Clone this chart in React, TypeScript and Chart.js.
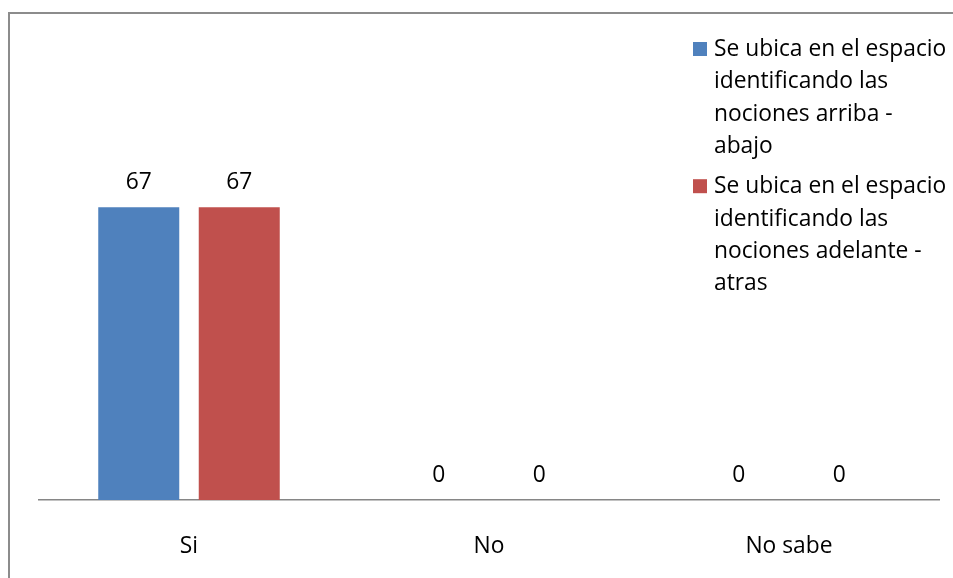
import React, { useEffect, useRef } from "react";
import { Chart, registerables } from "chart.js";

Chart.register(...registerables);

const categories = ["Si", "No", "No sabe"];
const seriesArriba = [67, 0, 0];
const seriesAdelante = [67, 0, 0];
const seriesNames = [
  "Se ubica en el espacio identificando las nociones arriba - abajo",
  "Se ubica en el espacio identificando las nociones adelante - atras",
];
const legendLines = [
  ["Se ubica en el espacio", "identificando las", "nociones arriba -", "abajo"],
  ["Se ubica en el espacio", "identificando las", "nociones adelante -", "atras"],
];
const colors = ["#4F81BD", "#C0504D"];

const FONT_FAMILY = "'Open Sans', sans-serif";
const FONT_SIZE = 22.8;

const labelsPlugin = {
  id: "valueLabels",
  afterDatasetsDraw(chart: any) {
    const ctx = chart.ctx;
    ctx.save();
    ctx.font = `${FONT_SIZE}px ${FONT_FAMILY}`;
    ctx.fillStyle = "#000";
    ctx.textAlign = "center";
    ctx.textBaseline = "alphabetic";
    chart.data.datasets.forEach((ds: any, di: number) => {
      const meta = chart.getDatasetMeta(di);
      meta.data.forEach((el: any, i: number) => {
        ctx.fillText(String(ds.data[i]), el.x, el.y - 18);
      });
    });
    ctx.restore();
  },
};

const legendPlugin = {
  id: "wrappedLegend",
  afterDraw(chart: any) {
    const ctx = chart.ctx;
    ctx.save();
    ctx.font = `${FONT_SIZE}px ${FONT_FAMILY}`;
    ctx.textAlign = "left";
    ctx.textBaseline = "alphabetic";
    const x0 = 683;
    const lineH = 32.3;
    let baseline = 42;
    legendLines.forEach((lines, i) => {
      ctx.fillStyle = colors[i];
      ctx.fillRect(x0, baseline - 14, 14, 14);
      ctx.fillStyle = "#000";
      lines.forEach((ln, j) => {
        ctx.fillText(ln, x0 + 21, baseline + j * lineH);
      });
      baseline += lines.length * lineH + 8;
    });
    ctx.restore();
  },
};

export default function App() {
  const ref = useRef<HTMLCanvasElement | null>(null);
  useEffect(() => {
    document.body.style.overflow = "hidden";
    const canvas = ref.current;
    if (!canvas) return;
    const chart = new Chart(canvas, {
      type: "bar",
      data: {
        labels: categories,
        datasets: [
          {
            label: seriesNames[0],
            data: seriesArriba,
            backgroundColor: colors[0],
            barPercentage: 0.806,
            categoryPercentage: 0.67,
          },
          {
            label: seriesNames[1],
            data: seriesAdelante,
            backgroundColor: colors[1],
            barPercentage: 0.806,
            categoryPercentage: 0.67,
          },
        ],
      },
      options: {
        animation: false,
        responsive: false,
        maintainAspectRatio: false,
        layout: { padding: { left: 29, right: 31, top: 49, bottom: 34 } },
        plugins: {
          legend: { display: false },
          tooltip: { enabled: false },
        },
        scales: {
          x: {
            grid: { display: false, drawTicks: false },
            border: { display: true, color: "#868686", width: 1.5 },
            ticks: {
              color: "#000",
              padding: 33,
              font: { family: FONT_FAMILY, size: FONT_SIZE },
            },
            afterFit: (s: any) => {
              s.height = 60;
            },
          },
          y: {
            display: false,
            min: 0,
            max: 100,
          },
        },
      },
      plugins: [labelsPlugin, legendPlugin],
    });
    return () => chart.destroy();
  }, []);

  return (
    <div
      style={{
        position: "fixed",
        left: 8,
        top: 12,
        width: 960,
        height: 580,
        border: "2px solid #8c8c8c",
        background: "#fff",
      }}
    >
      <canvas ref={ref} width={960} height={580} style={{ display: "block", width: 960, height: 580 }} />
    </div>
  );
}
